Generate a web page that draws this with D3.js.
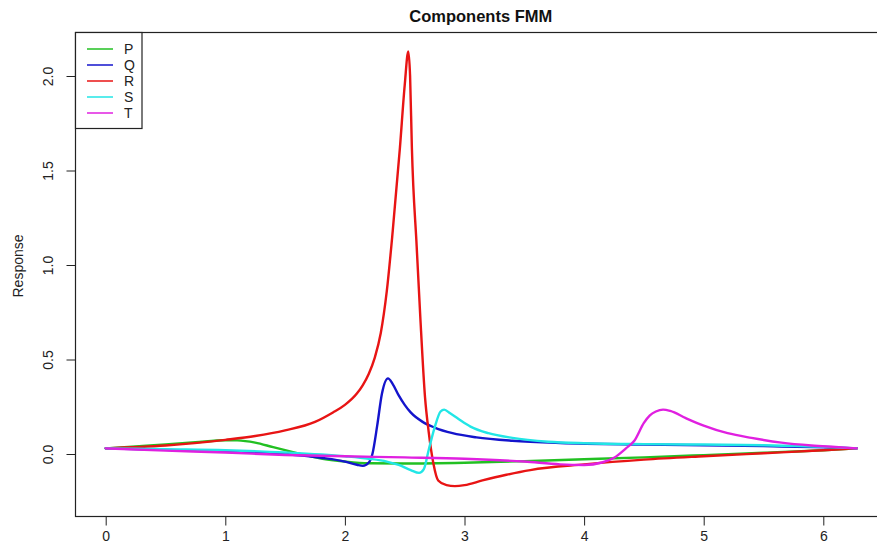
<!DOCTYPE html>
<html>
<head>
<meta charset="utf-8">
<script src="https://cdn.jsdelivr.net/npm/d3@7"></script>
<style>
  html, body { margin: 0; padding: 0; background: #fff; }
  svg { display: block; font-family: "Liberation Sans", Arial, sans-serif; }
</style>
</head>
<body>
<svg id="chart" width="877" height="550"></svg>
<script>
// ---- Data ----
const title = "Components FMM";
const yLabel = "Response";
const xTicks = [0, 1, 2, 3, 4, 5, 6];
const yTicks = [0.0, 0.5, 1.0, 1.5, 2.0];
const seriesNames = ["P", "Q", "R", "S", "T"];
const seriesColors = ["#22c022", "#1414cc", "#e81414", "#22e6e6", "#e020e0"];

const P = [[0,0.03],[0.25,0.04],[0.5,0.05],[0.75,0.062],[1.0,0.073],[1.1,0.072],[1.25,0.06],[1.4,0.036],
  [1.6,0.005],[1.8,-0.024],[2.0,-0.04],[2.2,-0.049],[2.5,-0.05],[3.0,-0.046],[3.5,-0.038],[4.0,-0.028],
  [4.5,-0.018],[5.0,-0.006],[5.5,0.007],[6.0,0.02],[6.28,0.03]];

const Q = [[0,0.03],[0.5,0.022],[1.0,0.015],[1.5,0.0],[1.8,-0.02],[2.0,-0.04],[2.1,-0.057],[2.15,-0.063],
  [2.2,-0.045],[2.23,0.0],[2.27,0.15],[2.31,0.32],[2.36,0.40],[2.4,0.37],[2.45,0.31],[2.5,0.26],[2.55,0.22],
  [2.65,0.17],[2.75,0.14],[2.9,0.11],[3.1,0.088],[3.4,0.07],[3.8,0.058],[4.5,0.05],[5.0,0.046],[5.5,0.042],
  [6.0,0.036],[6.28,0.03]];

const R = [[0,0.03],[0.5,0.045],[1.0,0.075],[1.25,0.095],[1.5,0.125],[1.75,0.17],[1.9,0.22],[2.0,0.26],
  [2.1,0.32],[2.15,0.365],[2.2,0.425],[2.25,0.51],[2.3,0.64],[2.35,0.86],[2.4,1.18],[2.46,1.62],[2.5,1.95],[2.53,2.13],
  [2.545,2.0],[2.56,1.62],[2.6,1.1],[2.63,0.73],[2.67,0.3],[2.7,0.12],[2.74,-0.05],[2.78,-0.14],[2.85,-0.165],
  [2.92,-0.17],[3.0,-0.165],[3.15,-0.14],[3.35,-0.11],[3.55,-0.085],[4.0,-0.055],[4.5,-0.03],[5.0,-0.012],
  [5.5,0.004],[6.0,0.02],[6.28,0.03]];

const S = [[0,0.03],[0.5,0.025],[1.0,0.02],[1.5,0.008],[2.0,-0.012],[2.2,-0.025],[2.35,-0.04],[2.45,-0.058],
  [2.55,-0.085],[2.62,-0.1],[2.66,-0.08],[2.7,0.02],[2.75,0.14],[2.8,0.225],[2.83,0.235],[2.88,0.215],
  [2.95,0.185],[3.05,0.145],[3.2,0.11],[3.4,0.085],[3.7,0.065],[4.0,0.057],[4.5,0.052],[5.0,0.05],
  [5.5,0.046],[6.0,0.038],[6.28,0.03]];

const T = [[0,0.03],[0.5,0.018],[1.0,0.008],[1.5,-0.005],[2.0,-0.012],[2.5,-0.018],[3.0,-0.025],[3.5,-0.04],
  [3.8,-0.055],[4.0,-0.058],[4.15,-0.045],[4.25,-0.02],[4.35,0.03],[4.42,0.07],[4.5,0.165],[4.55,0.205],
  [4.6,0.225],[4.66,0.235],[4.72,0.228],[4.85,0.19],[5.0,0.15],[5.2,0.11],[5.4,0.085],[5.65,0.06],
  [5.9,0.045],[6.1,0.037],[6.28,0.03]];

const allSeries = [P, Q, R, S, T];

// ---- Layout ----
const svg = d3.select("#chart");
const x = d3.scaleLinear().domain([0, 6]).range([105.7, 823.3]);
const y = d3.scaleLinear().domain([0, 2]).range([454, 76]);
const box = { left: 75.5, right: 886, top: 32.5, bottom: 516.5 };

// curves
const line = d3.line().x(d => x(d[0])).y(d => y(d[1])).curve(d3.curveMonotoneX);
allSeries.forEach((s, i) => {
  svg.append("path").attr("d", line(s)).attr("fill", "none")
    .attr("stroke", seriesColors[i]).attr("stroke-width", 2.4)
    .attr("stroke-linejoin", "round").attr("stroke-linecap", "round");
});

// box
svg.append("rect").attr("x", box.left).attr("y", box.top)
  .attr("width", box.right - box.left).attr("height", box.bottom - box.top)
  .attr("fill", "none").attr("stroke", "#222").attr("stroke-width", 1.2);

// x axis
const xAxis = d3.axisBottom(x).tickValues(xTicks).tickFormat(d3.format("d")).tickSize(9).tickPadding(6);
const gx = svg.append("g").attr("transform", `translate(0,${box.bottom})`).call(xAxis);
gx.select(".domain").remove();
gx.selectAll("line").attr("stroke", "#222");
gx.selectAll("text").attr("font-size", 14).attr("fill", "#222")
  .attr("font-family", "'Liberation Sans', Arial, sans-serif");

// y axis
const yAxis = d3.axisLeft(y).tickValues(yTicks).tickFormat(d3.format(".1f")).tickSize(9).tickPadding(0);
const gy = svg.append("g").attr("transform", `translate(${box.left},0)`).call(yAxis);
gy.select(".domain").remove();
gy.selectAll("line").attr("stroke", "#222");
gy.selectAll("text").attr("font-size", 14).attr("fill", "#222")
  .attr("font-family", "'Liberation Sans', Arial, sans-serif")
  .attr("text-anchor", "middle").attr("dy", null).attr("x", null)
  .attr("transform", "translate(-23,0) rotate(-90)");

// title
svg.append("text").attr("x", (box.left + box.right) / 2).attr("y", 22)
  .attr("text-anchor", "middle").attr("font-size", 16.5).attr("font-weight", "bold")
  .attr("fill", "#111").text(title);

// y label
svg.append("text").attr("transform", "translate(23,266) rotate(-90)")
  .attr("text-anchor", "middle").attr("font-size", 14).attr("fill", "#222").text(yLabel);

// legend
const lg = svg.append("g");
lg.append("rect").attr("x", box.left).attr("y", box.top).attr("width", 66.5).attr("height", 96)
  .attr("fill", "#fff").attr("stroke", "#222").attr("stroke-width", 1.2);
seriesNames.forEach((n, i) => {
  const yy = 49 + i * 16;
  lg.append("line").attr("x1", 87).attr("x2", 113).attr("y1", yy).attr("y2", yy)
    .attr("stroke", seriesColors[i]).attr("stroke-width", 1.5);
  lg.append("text").attr("x", 124).attr("y", yy + 5).attr("font-size", 14)
    .attr("fill", "#222").text(n);
});
</script>
</body>
</html>
